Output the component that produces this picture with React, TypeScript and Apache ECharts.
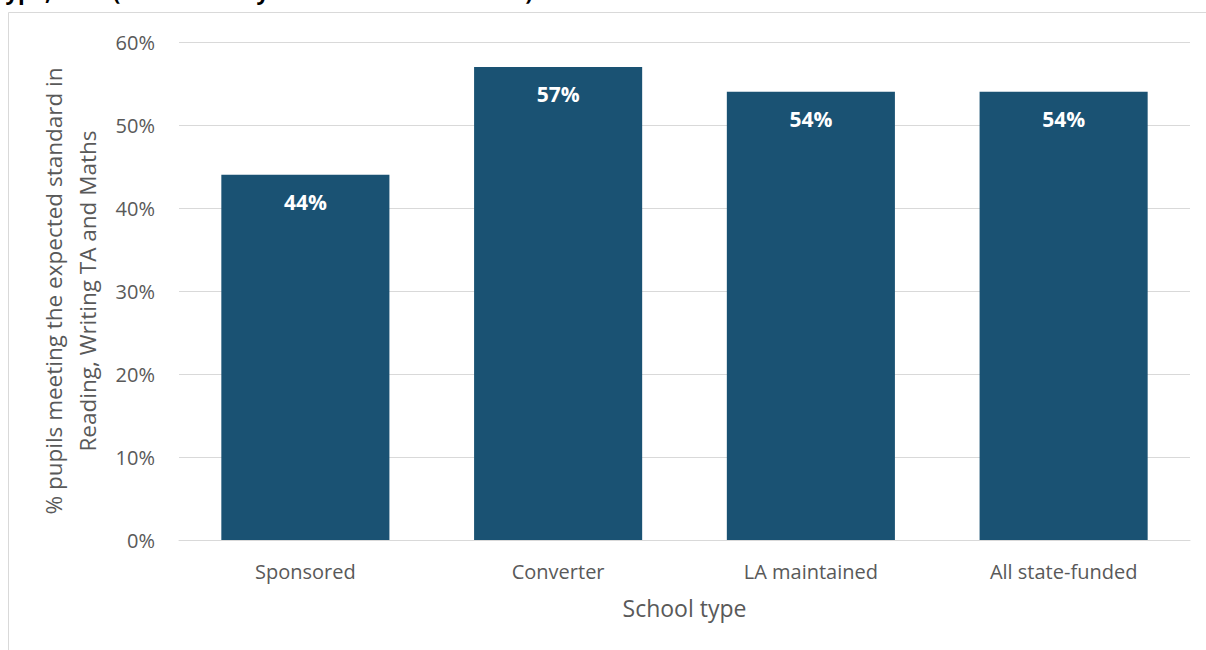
import React, { useEffect, useRef } from "react";
import * as echarts from "echarts";

const categories = ["Sponsored", "Converter", "LA maintained", "All state-funded"];
const values = [44, 57, 54, 54];
const yTicks = [0, 10, 20, 30, 40, 50, 60];
const titleLead = "Figure: KS2 attainment by school type, 2016 ";
const titleSource = "(Source: Analysis of DfE KS2 data 2016)";
const xName = "School type";
const yName = "% pupils meeting the expected standard in\nReading, Writing TA and Maths";

export default function App() {
  const ref = useRef<HTMLDivElement>(null);
  useEffect(() => {
    const chart = echarts.init(ref.current!, null, { renderer: "svg" });
    const font = "'Open Sans', 'Noto Sans', sans-serif";
    chart.setOption({
      animation: false,
      backgroundColor: "#ffffff",
      graphic: [
        {
          type: "rect",
          shape: { x: 8.5, y: 12.5, width: 1210, height: 660 },
          style: { fill: "none", stroke: "#d9d9d9", lineWidth: 1 },
          silent: true,
        },
        {
          type: "text",
          x: 113,
          y: 2,
          style: {
            text: titleSource,
            font: "bold 22px " + font,
            fill: "#000000",
            verticalAlign: "bottom",
            align: "left",
          },
          silent: true,
        },
        {
          type: "text",
          x: 113,
          y: 2,
          style: {
            text: titleLead,
            font: "bold 22px " + font,
            fill: "#000000",
            verticalAlign: "bottom",
            align: "right",
          },
          silent: true,
        },
      ],
      grid: { left: 179, right: 16, top: 42, bottom: 110, containLabel: false },
      xAxis: {
        type: "category",
        data: categories,
        name: xName,
        nameLocation: "middle",
        nameGap: 56,
        nameTextStyle: { color: "#595959", fontSize: 23, fontFamily: font },
        axisLine: { show: true, lineStyle: { color: "#d9d9d9", width: 1 } },
        axisTick: { show: false },
        axisLabel: { color: "#595959", fontSize: 20, fontFamily: font, margin: 21 },
      },
      yAxis: {
        type: "value",
        min: 0,
        max: 60,
        interval: 10,
        name: yName,
        nameLocation: "middle",
        nameGap: 57,
        nameRotate: 90,
        nameTextStyle: { color: "#595959", fontSize: 22.5, fontFamily: font, lineHeight: 34, align: "center" },
        axisLine: { show: false },
        axisTick: { show: false },
        splitLine: { lineStyle: { color: "#d9d9d9", width: 1 } },
        axisLabel: {
          color: "#595959",
          fontSize: 20,
          fontFamily: font,
          margin: 24,
          formatter: (v: number) => (yTicks.includes(v) ? v + "%" : ""),
        },
      },
      series: [
        {
          type: "bar",
          data: values,
          barWidth: "66.5%",
          itemStyle: { color: "#1a5273" },
          label: {
            show: true,
            position: "insideTop",
            distance: 17,
            color: "#ffffff",
            fontWeight: "bold",
            fontSize: 21,
            fontFamily: font,
            formatter: (p: any) => p.value + "%",
          },
        },
      ],
    });
    return () => chart.dispose();
  }, []);
  return (
    <div
      ref={ref}
      style={{ position: "fixed", left: 0, top: 0, width: 1206, height: 650 }}
    />
  );
}
